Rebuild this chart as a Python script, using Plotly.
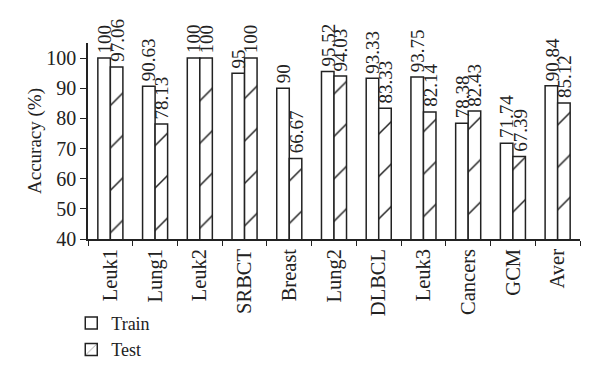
import plotly.graph_objects as go

categories = ["Leuk1", "Lung1", "Leuk2", "SRBCT", "Breast", "Lung2", "DLBCL", "Leuk3", "Cancers", "GCM", "Aver"]
train = [100, 90.63, 100, 95, 90, 95.52, 93.33, 93.75, 78.38, 71.74, 90.84]
test = [97.06, 78.13, 100, 100, 66.67, 94.03, 83.33, 82.14, 82.43, 67.39, 85.12]
train_labels = ["100", "90.63", "100", "95", "90", "95.52", "93.33", "93.75", "78.38", "71.74", "90.84"]
test_labels = ["97.06", "78.13", "100", "100", "66.67", "94.03", "83.33", "82.14", "82.43", "67.39", "85.12"]

FONT = "Liberation Serif"
LABEL_SIZE = 19
BARGAP = 0.44
# the page body has an 8px default margin, so the figure is sized to fill the rest of the window
FIG_W, FIG_H = 592, 374
M_L, M_R, M_T, M_B = 80, 20, 35, 143
PLOT_W = FIG_W - M_L - M_R
BAR_PX = PLOT_W / len(categories) * (1 - BARGAP) / 2


def text_len(s):
    return sum(0.25 if ch == "." else 0.5 for ch in s) * LABEL_SIZE


fig = go.Figure()
fig.add_trace(go.Bar(
    x=categories, y=train, name="Train",
    marker=dict(color="white", line=dict(color="#222", width=1.5)),
))
fig.add_trace(go.Bar(
    x=categories, y=test, name="Test",
    marker=dict(color="white", line=dict(color="#222", width=1.5),
                pattern=dict(shape="/", size=30, solidity=0.05, fgcolor="#222",
                             bgcolor="white", fgopacity=1)),
))

for labels, vals, sgn in ((train_labels, train, -1), (test_labels, test, 1)):
    for cat, v, lab in zip(categories, vals, labels):
        fig.add_annotation(x=cat, y=v, text=lab, showarrow=False, textangle=-90,
                           xanchor="center", yanchor="middle",
                           xshift=sgn * BAR_PX / 2 + 0.5, yshift=text_len(lab) / 2 + 5,
                           font=dict(family=FONT, size=LABEL_SIZE, color="#222"))

fig.update_layout(
    width=FIG_W, height=FIG_H,
    margin=dict(l=M_L, r=M_R, t=M_T, b=M_B),
    paper_bgcolor="white", plot_bgcolor="white",
    barmode="group", bargap=BARGAP, bargroupgap=0,
    font=dict(family=FONT, size=18, color="#222"),
    showlegend=True,
    legend=dict(x=-0.034, y=-0.336, xanchor="left", yanchor="top",
                font=dict(family=FONT, size=18), tracegroupgap=2,
                bgcolor="rgba(0,0,0,0)"),
    xaxis=dict(showline=True, linecolor="#222", linewidth=1.5,
               ticks="outside", tickson="boundaries", ticklen=5, tickcolor="#222",
               tickangle=-90, tickfont=dict(family=FONT, size=20.5), showgrid=False),
    yaxis=dict(range=[40, 105], tickvals=[40, 50, 60, 70, 80, 90, 100],
               showline=True, linecolor="#222", linewidth=1.5,
               ticks="outside", ticklen=6, tickcolor="#222",
               tickfont=dict(family=FONT, size=20), showgrid=False, zeroline=False,
               title=dict(text="Accuracy (%)", font=dict(family=FONT, size=19), standoff=0)),
)

fig.write_html("out.html")
